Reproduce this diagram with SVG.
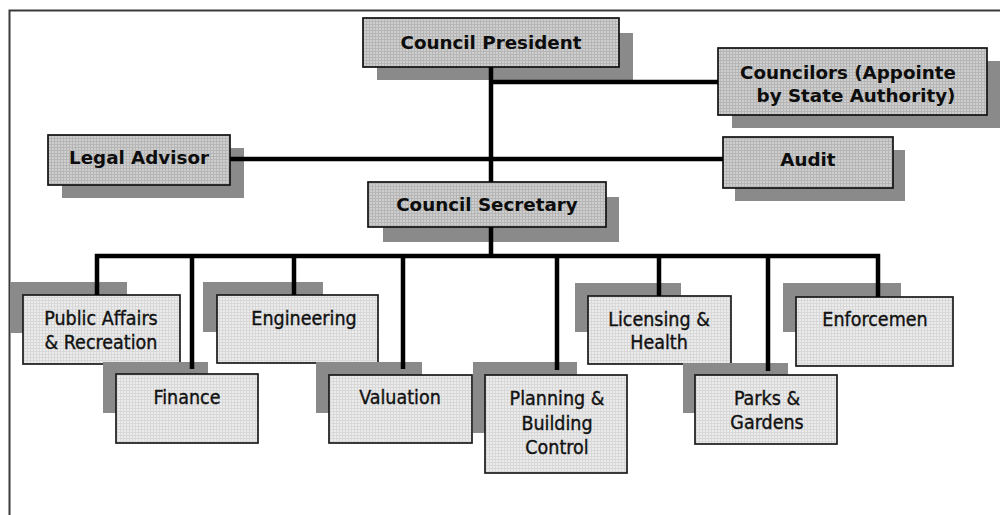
<svg xmlns="http://www.w3.org/2000/svg" width="1000" height="515" viewBox="0 0 1000 515">
  <defs>
    <!-- fine mesh fills for the boxes -->
    <pattern id="meshDark" width="3" height="3" patternUnits="userSpaceOnUse">
      <rect width="3" height="3" fill="#cecece"/>
      <path d="M0 0.5H3M0.5 0V3" stroke="#b6b6b6" stroke-width="1"/>
    </pattern>
    <pattern id="meshLight" width="3" height="3" patternUnits="userSpaceOnUse">
      <rect width="3" height="3" fill="#ececec"/>
      <path d="M0 0.5H3M0.5 0V3" stroke="#d8d8d8" stroke-width="1"/>
    </pattern>
  </defs>
  <style>
    .frame { stroke: #3a3a3a; stroke-width: 2; fill: none; }
    .shadow { fill: #8a8a8a; }
    .boxTop { fill: url(#meshDark); stroke: #111; stroke-width: 1.7; }
    .boxDept { fill: url(#meshLight); stroke: #1a1a1a; stroke-width: 1.7; }
    .title { font-family: "DejaVu Sans", Verdana, sans-serif; font-weight: bold; font-size: 18.3px; fill: #0d0d0d; text-anchor: middle; }
    .dept { font-family: "DejaVu Sans Condensed", "Liberation Sans", Arial, sans-serif; font-size: 19.5px; fill: #111; stroke: #111; stroke-width: 0.35; text-anchor: middle; }
    .link { stroke: #000; stroke-width: 4.5; fill: none; stroke-linejoin: miter; }
  </style>

  <rect width="1000" height="515" fill="#fff"/>
  <path class="frame" d="M9.5 515V10.5H1000"/>

  <!-- upper management -->
  <g id="council-president">
    <rect class="shadow" x="377" y="33" width="256" height="47"/>
    <rect class="boxTop" x="363" y="18" width="256" height="49"/>
    <text class="title" x="491" y="49">Council President</text>
  </g>
  <g id="councilors">
    <rect class="shadow" x="732" y="61" width="269" height="67"/>
    <rect class="boxTop" x="718" y="48" width="269" height="67"/>
    <text class="title" x="848" y="79">Councilors (Appointe</text>
    <text class="title" x="856" y="102">by State Authority)</text>
  </g>
  <g id="legal-advisor">
    <rect class="shadow" x="62" y="148" width="182" height="50"/>
    <rect class="boxTop" x="48" y="135" width="182" height="50"/>
    <text class="title" x="139" y="164">Legal Advisor</text>
  </g>
  <g id="audit">
    <rect class="shadow" x="735" y="150" width="170" height="51"/>
    <rect class="boxTop" x="723" y="137" width="170" height="51"/>
    <text class="title" x="808" y="166">Audit</text>
  </g>
  <g id="council-secretary">
    <rect class="shadow" x="383" y="197" width="236" height="45"/>
    <rect class="boxTop" x="368" y="182" width="238" height="45"/>
    <text class="title" x="487" y="211">Council Secretary</text>
  </g>

  <!-- departments -->
  <g id="public-affairs">
    <rect class="shadow" x="10" y="282" width="117" height="51"/>
    <rect class="boxDept" x="23" y="295" width="157" height="69"/>
    <text class="dept" x="101" y="325">Public Affairs</text>
    <text class="dept" x="101" y="349">&amp; Recreation</text>
  </g>
  <g id="finance">
    <rect class="shadow" x="103" y="362" width="105" height="51"/>
    <rect class="boxDept" x="116" y="374" width="142" height="69"/>
    <text class="dept" x="187" y="404">Finance</text>
  </g>
  <g id="engineering">
    <rect class="shadow" x="203" y="282" width="120" height="50"/>
    <rect class="boxDept" x="217" y="295" width="161" height="68"/>
    <text class="dept" x="304" y="325">Engineering</text>
  </g>
  <g id="valuation">
    <rect class="shadow" x="316" y="362" width="106" height="51"/>
    <rect class="boxDept" x="329" y="375" width="143" height="68"/>
    <text class="dept" x="400" y="404">Valuation</text>
  </g>
  <g id="planning">
    <rect class="shadow" x="473" y="362" width="104" height="71"/>
    <rect class="boxDept" x="485" y="375" width="142" height="98"/>
    <text class="dept" x="557" y="405">Planning &amp;</text>
    <text class="dept" x="557" y="430">Building</text>
    <text class="dept" x="557" y="454">Control</text>
  </g>
  <g id="licensing">
    <rect class="shadow" x="575" y="283" width="106" height="49"/>
    <rect class="boxDept" x="588" y="296" width="143" height="68"/>
    <text class="dept" x="659" y="326">Licensing &amp;</text>
    <text class="dept" x="659" y="349">Health</text>
  </g>
  <g id="parks">
    <rect class="shadow" x="683" y="363" width="105" height="50"/>
    <rect class="boxDept" x="695" y="375" width="142" height="69"/>
    <text class="dept" x="767" y="405">Parks &amp;</text>
    <text class="dept" x="767" y="429">Gardens</text>
  </g>
  <g id="enforcement">
    <rect class="shadow" x="783" y="283" width="118" height="49"/>
    <rect class="boxDept" x="796" y="297" width="157" height="69"/>
    <text class="dept" x="875" y="326">Enforcemen</text>
  </g>

  <!-- reporting lines -->
  <g id="connectors">
    <path class="link" d="M491 67V182"/>
    <path class="link" d="M491 82H718"/>
    <path class="link" d="M230 159H723"/>
    <path class="link" d="M491 227V256"/>
    <path class="link" d="M97 295V256H878V297"/>
    <path class="link" d="M192 256V369"/>
    <path class="link" d="M294 256V295"/>
    <path class="link" d="M403 256V369"/>
    <path class="link" d="M557 256V370"/>
    <path class="link" d="M659 256V296"/>
    <path class="link" d="M768 256V371"/>
  </g>
</svg>
